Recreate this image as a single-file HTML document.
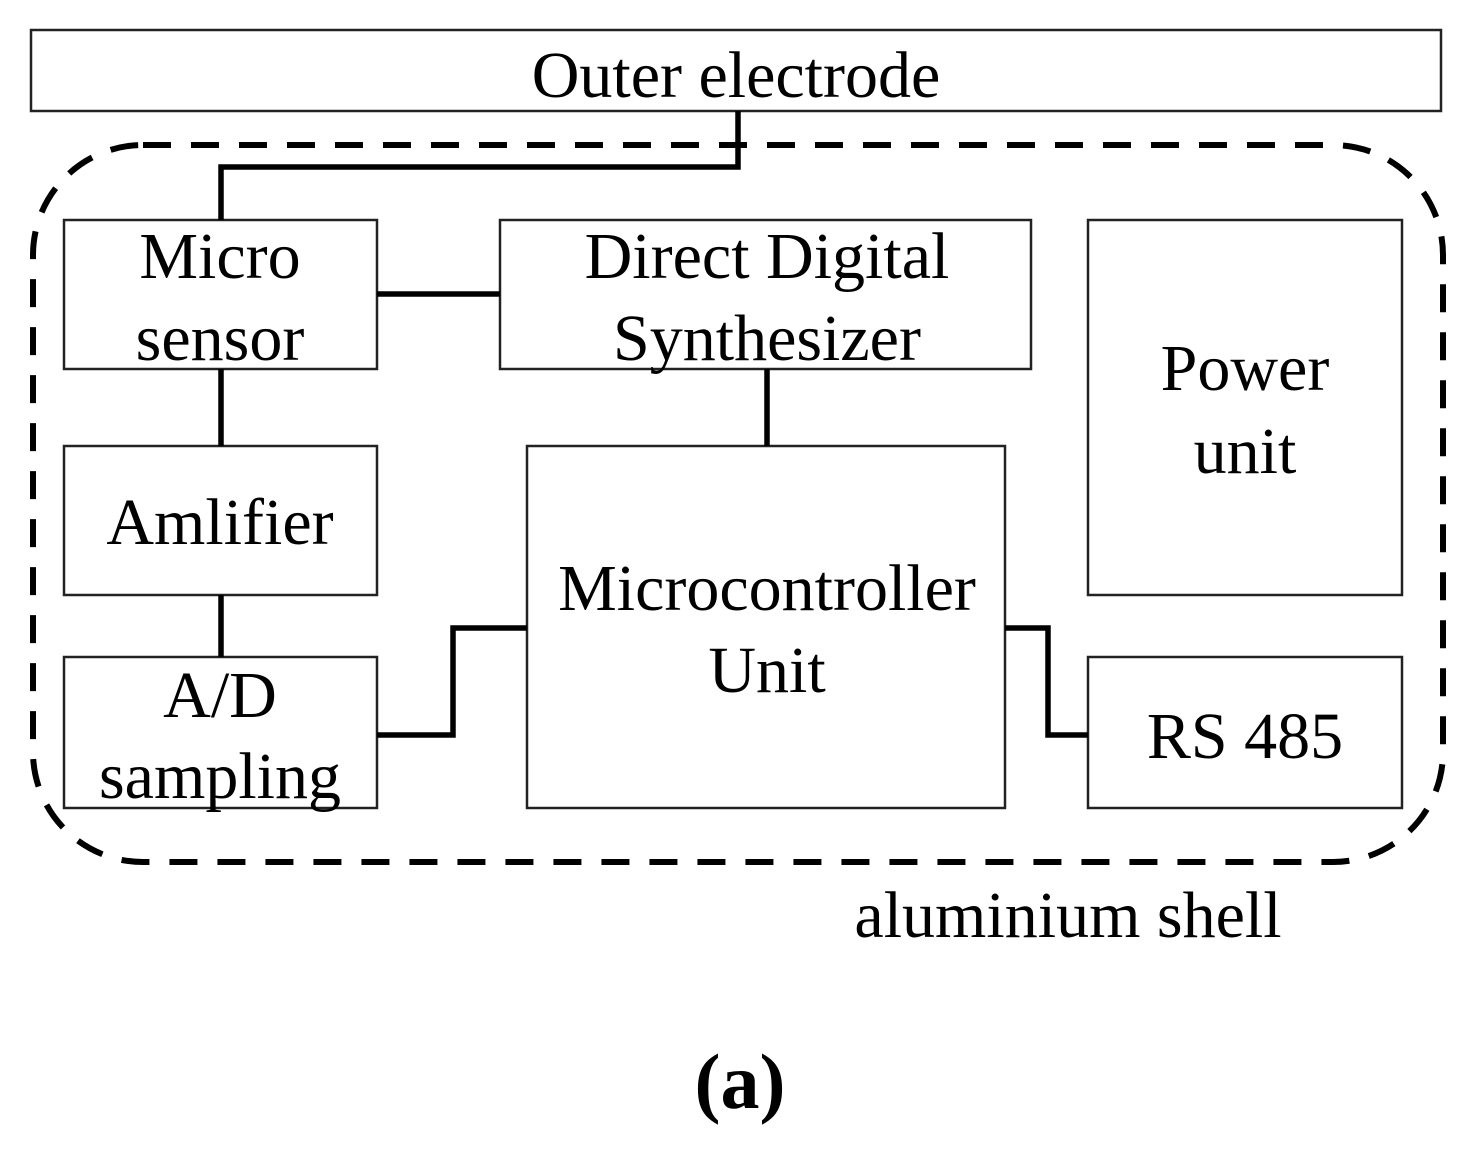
<!DOCTYPE html>
<html><head><meta charset="utf-8"><style>
html,body{margin:0;padding:0;background:#fff;}
svg{display:block;}
text{font-family:"Liberation Serif",serif;font-size:66px;fill:#000;text-anchor:middle;}
</style></head><body>
<svg width="1472" height="1151" viewBox="0 0 1472 1151">
<g fill="none" stroke="#222" stroke-width="2.5">
<rect x="31" y="30" width="1410" height="81"/>
<rect x="64" y="220" width="313" height="149"/>
<rect x="500" y="220" width="531" height="149"/>
<rect x="1088" y="220" width="314" height="375"/>
<rect x="64" y="446" width="313" height="149"/>
<rect x="64" y="657" width="313" height="151"/>
<rect x="527" y="446" width="478" height="362"/>
<rect x="1088" y="657" width="314" height="151"/>
</g>
<rect x="33" y="145" width="1410" height="717" rx="110" ry="110" fill="none" stroke="#000" stroke-width="6" stroke-dasharray="28 20"/>
<g fill="none" stroke="#000" stroke-width="5.5">
<polyline points="738,111 738,167 221,167 221,220"/>
<line x1="377" y1="294" x2="500" y2="294"/>
<line x1="767" y1="369" x2="767" y2="446"/>
<line x1="221" y1="369" x2="221" y2="446"/>
<line x1="221" y1="595" x2="221" y2="657"/>
<polyline points="377,735 453,735 453,628 527,628"/>
<polyline points="1005,628 1048,628 1048,735 1088,735"/>
</g>
<text x="736" y="97">Outer electrode</text>
<text x="220" y="278">Micro</text>
<text x="220" y="360">sensor</text>
<text x="767" y="278">Direct Digital</text>
<text x="767" y="360">Synthesizer</text>
<text x="1245" y="390">Power</text>
<text x="1245" y="473">unit</text>
<text x="220" y="544">Amlifier</text>
<text x="220" y="717">A/D</text>
<text x="220" y="798">sampling</text>
<text x="767" y="610">Microcontroller</text>
<text x="767" y="692">Unit</text>
<text x="1245" y="758">RS 485</text>
<text x="1068" y="937">aluminium shell</text>
<text x="740" y="1108" style="font-size:78px;font-weight:bold">(a)</text>
</svg>
</body></html>
